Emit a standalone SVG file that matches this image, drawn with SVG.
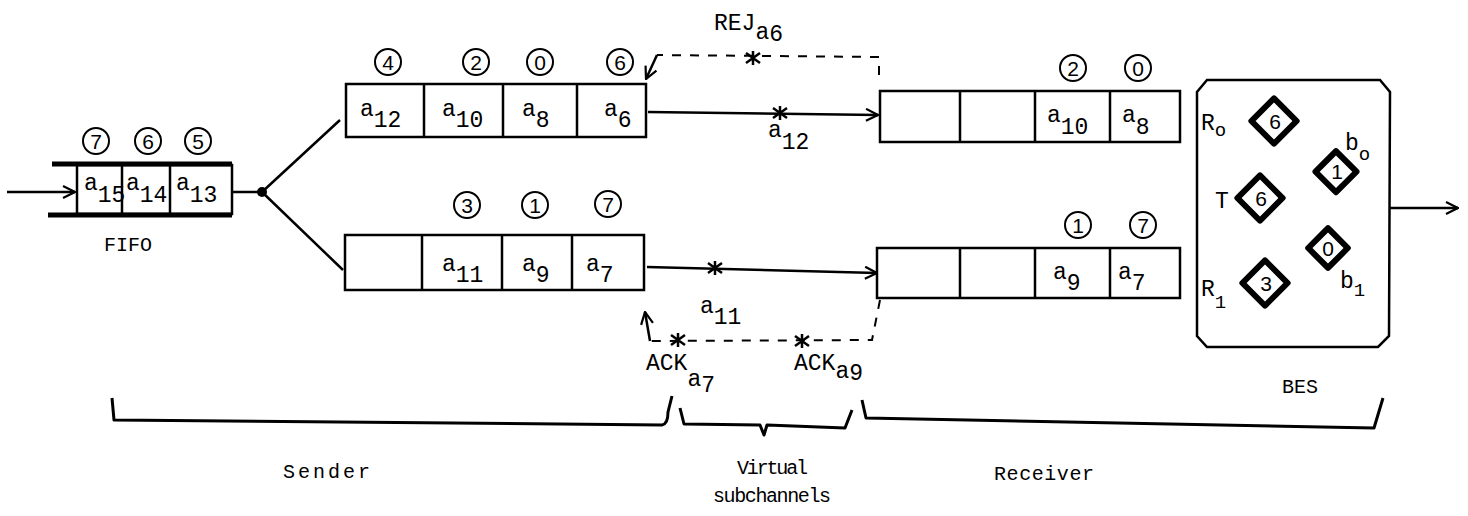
<svg xmlns="http://www.w3.org/2000/svg" width="1468" height="516" viewBox="0 0 1468 516">
<style>
.t{font-family:"Liberation Mono",monospace;font-size:23px;fill:#000}
.s{font-family:"Liberation Mono",monospace;font-size:20px;fill:#000}
.b{font-family:"Liberation Mono",monospace;font-size:23px;fill:#000}
.c{font-family:"Liberation Sans",sans-serif;font-size:21px;fill:#000;text-anchor:middle}
.box{fill:none;stroke:#000;stroke-width:2.5}
.ln{fill:none;stroke:#000;stroke-width:2.5}
.dash{fill:none;stroke:#000;stroke-width:2;stroke-dasharray:9 9}
.circ{fill:none;stroke:#000;stroke-width:2}
.dia{fill:#fff;stroke:#000;stroke-width:6;stroke-linejoin:round}
.br{fill:none;stroke:#000;stroke-width:3;stroke-linejoin:round}
</style>
<defs>
<marker id="arr" viewBox="0 0 14 14" refX="13" refY="7" markerWidth="14" markerHeight="14" markerUnits="userSpaceOnUse" orient="auto">
<path d="M1,1 L13,7 L1,13" fill="none" stroke="#000" stroke-width="2.2"/>
</marker>
<g id="star"><path d="M-7,-5 L7,5 M-7,5 L7,-5 M0,-7 L0,7" stroke="#000" stroke-width="2.5" fill="none"/></g>
</defs>

<g id="fifo">
<path d="M52,164 L232,164 M48,215 L232,215" stroke="#000" stroke-width="5" fill="none"/>
<rect class="box" x="77" y="165" width="155" height="49"/>
<path class="ln" d="M122,165 V214 M170,165 V214"/>
<text class="t" x="84" y="190">a<tspan dy="12">15</tspan></text>
<text class="t" x="126" y="190">a<tspan dy="12">14</tspan></text>
<text class="t" x="176" y="190">a<tspan dy="12">13</tspan></text>
<circle class="circ" cx="96" cy="141" r="13"/><text class="c" x="96" y="149">7</text>
<circle class="circ" cx="148" cy="141" r="13"/><text class="c" x="148" y="149">6</text>
<circle class="circ" cx="198" cy="141" r="13"/><text class="c" x="198" y="149">5</text>
<text class="s" x="128" y="251" text-anchor="middle">FIFO</text>
</g>

<g id="sender-top">
<rect class="box" x="346" y="84" width="300" height="53"/>
<path class="ln" d="M424,84 V137 M503,84 V137 M577,84 V137"/>
<text class="t" x="360" y="116">a<tspan dy="11">12</tspan></text>
<text class="t" x="442" y="116">a<tspan dy="11">10</tspan></text>
<text class="t" x="522" y="116">a<tspan dy="11">8</tspan></text>
<text class="t" x="604" y="116">a<tspan dy="11">6</tspan></text>
<circle class="circ" cx="388" cy="62" r="13"/><text class="c" x="388" y="70">4</text>
<circle class="circ" cx="476" cy="62" r="13"/><text class="c" x="476" y="70">2</text>
<circle class="circ" cx="540" cy="62" r="13"/><text class="c" x="540" y="70">0</text>
<circle class="circ" cx="620" cy="62" r="13"/><text class="c" x="620" y="70">6</text>
</g>

<g id="sender-bottom">
<rect class="box" x="345" y="235" width="299" height="55"/>
<path class="ln" d="M422,235 V290 M502,235 V290 M572,235 V290"/>
<text class="t" x="442" y="271">a<tspan dy="11">11</tspan></text>
<text class="t" x="522" y="271">a<tspan dy="11">9</tspan></text>
<text class="t" x="586" y="271">a<tspan dy="11">7</tspan></text>
<circle class="circ" cx="467" cy="205" r="13"/><text class="c" x="467" y="213">3</text>
<circle class="circ" cx="535" cy="205" r="13"/><text class="c" x="535" y="213">1</text>
<circle class="circ" cx="608" cy="204" r="13"/><text class="c" x="608" y="212">7</text>
</g>

<g id="receiver-top">
<rect class="box" x="880" y="91" width="300" height="51"/>
<path class="ln" d="M960,91 V142 M1035,91 V142 M1110,91 V142"/>
<text class="t" x="1047" y="122">a<tspan dy="12">10</tspan></text>
<text class="t" x="1122" y="122">a<tspan dy="12">8</tspan></text>
<circle class="circ" cx="1073" cy="68" r="13"/><text class="c" x="1073" y="76">2</text>
<circle class="circ" cx="1138" cy="68" r="13"/><text class="c" x="1138" y="76">0</text>
</g>

<g id="receiver-bottom">
<rect class="box" x="877" y="248" width="303" height="50"/>
<path class="ln" d="M960,248 V298 M1035,248 V298 M1110,248 V298"/>
<text class="t" x="1053" y="279">a<tspan dy="11">9</tspan></text>
<text class="t" x="1118" y="279">a<tspan dy="11">7</tspan></text>
<circle class="circ" cx="1078" cy="225" r="13"/><text class="c" x="1078" y="233">1</text>
<circle class="circ" cx="1143" cy="225" r="13"/><text class="c" x="1143" y="233">7</text>
</g>

<g id="bes">
<path class="box" d="M1207,80 L1380,80 L1390,92 L1389,336 L1378,347 L1207,347 L1197,336 L1197,92 Z"/>
<rect class="dia" x="1258" y="105" width="32" height="32" transform="rotate(45 1274 121)"/>
<text class="c" x="1275" y="129">6</text>
<rect class="dia" x="1244" y="182" width="32" height="32" transform="rotate(45 1260 198)"/>
<text class="c" x="1261" y="206">6</text>
<rect class="dia" x="1249" y="267" width="32" height="32" transform="rotate(45 1265 283)"/>
<text class="c" x="1266" y="291">3</text>
<rect class="dia" x="1322" y="157" width="29" height="29" transform="rotate(45 1336 171)"/>
<text class="c" x="1337" y="179">1</text>
<rect class="dia" x="1314" y="234" width="28" height="28" transform="rotate(45 1328 248)"/>
<text class="c" x="1328" y="256">0</text>
<text class="b" x="1201" y="130">R<tspan dy="6" font-size="19">o</tspan></text>
<text class="b" x="1215" y="208">T</text>
<text class="b" x="1201" y="296">R<tspan dy="12" font-size="19">1</tspan></text>
<text class="b" x="1345" y="150">b<tspan dy="10" font-size="19">o</tspan></text>
<text class="b" x="1340" y="288">b<tspan dy="8" font-size="19">1</tspan></text>
<text class="s" x="1300" y="393" text-anchor="middle">BES</text>
</g>

<g id="connectors">
<path class="ln" d="M7,192 L75,192" marker-end="url(#arr)"/>
<path class="ln" d="M232,192 L262,192 M262,192 L340,120 M262,192 L343,270"/>
<circle cx="262" cy="192" r="5" fill="#000"/>
<path class="ln" d="M648,112 L878,115" marker-end="url(#arr)"/>
<use href="#star" x="780" y="113"/>
<text class="t" x="768" y="137">a<tspan dy="12">12</tspan></text>
<path class="ln" d="M647,267 L877,273" marker-end="url(#arr)"/>
<use href="#star" x="715" y="268"/>
<text class="t" x="700" y="313">a<tspan dy="11">11</tspan></text>
<path class="dash" d="M879,75 L879,57 L657,55"/>
<path class="ln" d="M657,55 L646,79" marker-end="url(#arr)" stroke-width="2"/>
<use href="#star" x="753" y="58"/>
<text class="t" x="714" y="30">REJ<tspan dy="9">a</tspan><tspan dy="2">6</tspan></text>
<path class="dash" d="M880,300 L872,340 L650,341"/>
<path class="ln" d="M650,341 L645,312" marker-end="url(#arr)" stroke-width="2"/>
<use href="#star" x="678" y="340"/>
<use href="#star" x="802" y="341"/>
<text class="t" x="646" y="370">ACK<tspan dy="16">a</tspan><tspan dy="6">7</tspan></text>
<text class="t" x="794" y="370">ACK<tspan dy="8">a</tspan><tspan dy="2">9</tspan></text>
<path class="ln" d="M1389,208 L1458,208" marker-end="url(#arr)"/>
</g>

<g id="braces">
<path class="br" d="M112,398 L114,420 L662,425 Q668,424 668,412 L672,396"/>
<path class="br" d="M680,408 L684,424 L760,425 L764,435 L767,425 L845,428 L852,410"/>
<path class="br" d="M862,400 L866,418 L1374,428 L1383,398"/>
<text class="s" x="283" y="478" textLength="87">Sender</text>
<text class="s" x="737" y="474" textLength="71">Virtual</text>
<text class="s" x="713" y="502" textLength="118">subchannels</text>
<text class="s" x="994" y="480" textLength="100">Receiver</text>
</g>
</svg>
